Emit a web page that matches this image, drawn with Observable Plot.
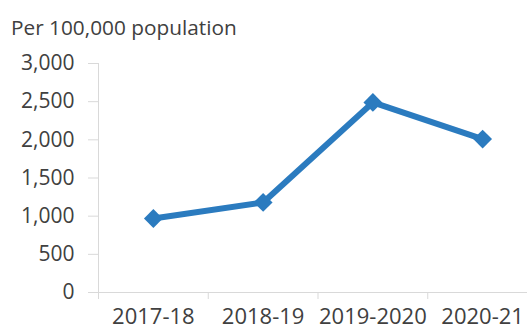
<!DOCTYPE html>
<html>
<head>
<meta charset="utf-8">
<script src="https://cdn.jsdelivr.net/npm/d3@7"></script>
<script src="https://cdn.jsdelivr.net/npm/@observablehq/plot@0.6"></script>
<style>
  html, body { margin: 0; padding: 0; background: #fff; }
  #wrap { position: relative; width: 527px; height: 331px; overflow: hidden; background: #fff; }
  #sub { font-family: "Open Sans", sans-serif; font-size: 20.8px; line-height: 24px; color: #404040;
         padding-top: 15px; height: 27px; padding-left: 11px; white-space: nowrap; }
</style>
</head>
<body>
<div id="wrap">
  <div id="sub">Per 100,000 population</div>
  <div id="chart"></div>
</div>
<script>
const categories = ["2017-18", "2018-19", "2019-2020", "2020-21"];
const values = [970, 1180, 2490, 2010];
const yTicks = [0, 500, 1000, 1500, 2000, 2500, 3000];

const data = categories.map((c, i) => ({cat: c, idx: i + 0.5, value: values[i]}));
const blue = "#2b7bbf";
const grid = "#d9d9d9";
const textColor = "#404040";

const chart = Plot.plot({
  width: 527,
  height: 289,
  marginTop: 21,
  marginBottom: 39,
  marginLeft: 98,
  marginRight: 0,
  style: {fontFamily: "Open Sans, sans-serif", fontSize: "21px", background: "#fff", overflow: "hidden"},
  x: {type: "linear", domain: [0, 4], range: [98, 537]},
  y: {domain: [0, 3000], range: [250, 21]},
  marks: [
    Plot.ruleX([0], {y1: 0, y2: 3000, stroke: grid}),
    Plot.ruleY([0], {stroke: grid}),
    Plot.axisY({ticks: yTicks, tickSize: 10, tickPadding: 14, stroke: grid, fill: textColor,
                fontSize: 21, tickFormat: d3.format(","), label: null}),
    Plot.axisX({ticks: [0, 1, 2, 3, 4], tickSize: 7, stroke: grid, tickFormat: () => "", label: null}),
    Plot.axisX({ticks: data.map(d => d.idx), tickSize: 0, tickPadding: 16, fill: textColor,
                fontSize: 22, tickFormat: d => categories[Math.floor(d)], label: null}),
    Plot.line(data, {x: "idx", y: "value", stroke: blue, strokeWidth: 6}),
    Plot.dot(data, {x: "idx", y: "value", symbol: "diamond2", r: 8.5, fill: blue, stroke: "none"})
  ]
});
document.getElementById("chart").appendChild(chart);
</script>
</body>
</html>
